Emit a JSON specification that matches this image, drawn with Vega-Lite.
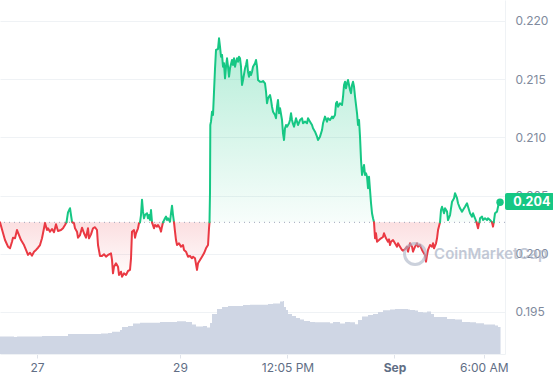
{
  "$schema": "https://vega.github.io/schema/vega-lite/v6.json",
  "width": 505,
  "height": 354,
  "autosize": {"type": "none"},
  "padding": {"left": 0, "top": 0, "right": 48, "bottom": 26},
  "background": "white",
  "config": {"view": {"stroke": null}, "font": "Inter"},
  "datasets": {
    "price": [
      {"t":11.58,"p":0.20270,"s":1,"d":"down"},{"t":12.59,"p":0.20179,"s":1,"d":"down"},{"t":13.26,"p":0.20118,"s":1,"d":"down"},{"t":14.27,"p":0.20061,"s":1,"d":"down"},{"t":14.94,"p":0.20047,"s":1,"d":"down"},{"t":15.61,"p":0.20104,"s":1,"d":"down"},{"t":15.94,"p":0.20138,"s":1,"d":"down"},{"t":16.62,"p":0.20133,"s":1,"d":"down"},{"t":17.29,"p":0.20204,"s":1,"d":"down"},{"t":17.96,"p":0.20161,"s":1,"d":"down"},{"t":18.63,"p":0.20118,"s":1,"d":"down"},{"t":19.64,"p":0.20075,"s":1,"d":"down"},{"t":20.31,"p":0.20033,"s":1,"d":"down"},{"t":20.98,"p":0.19990,"s":1,"d":"down"},{"t":21.65,"p":0.20009,"s":1,"d":"down"},{"t":22.32,"p":0.19984,"s":1,"d":"down"},{"t":23.0,"p":0.20018,"s":1,"d":"down"},{"t":23.67,"p":0.20033,"s":1,"d":"down"},{"t":24.34,"p":0.20052,"s":1,"d":"down"},{"t":25.01,"p":0.20075,"s":1,"d":"down"},{"t":25.68,"p":0.20133,"s":1,"d":"down"},{"t":26.35,"p":0.20219,"s":1,"d":"down"},{"t":26.69,"p":0.20264,"s":1,"d":"down"},{"t":27.36,"p":0.20204,"s":1,"d":"down"},{"t":27.69,"p":0.20219,"s":1,"d":"down"},{"t":28.37,"p":0.20190,"s":1,"d":"down"},{"t":29.04,"p":0.20213,"s":1,"d":"down"},{"t":29.71,"p":0.20185,"s":1,"d":"down"},{"t":30.38,"p":0.20253,"s":1,"d":"down"},{"t":31.05,"p":0.20196,"s":1,"d":"down"},{"t":32.06,"p":0.20204,"s":1,"d":"down"},{"t":32.73,"p":0.20219,"s":1,"d":"down"},{"t":33.4,"p":0.20247,"s":1,"d":"down"},{"t":33.9,"p":0.20270,"s":1,"d":"down"},
      {"t":33.9,"p":0.20270,"s":2,"d":"up"},{"t":34.41,"p":0.20356,"s":2,"d":"up"},{"t":35.08,"p":0.20391,"s":2,"d":"up"},{"t":35.41,"p":0.20333,"s":2,"d":"up"},{"t":35.75,"p":0.20276,"s":2,"d":"up"},{"t":35.92,"p":0.20270,"s":2,"d":"up"},
      {"t":35.92,"p":0.20270,"s":3,"d":"down"},{"t":36.42,"p":0.20262,"s":3,"d":"down"},{"t":36.76,"p":0.20219,"s":3,"d":"down"},{"t":37.43,"p":0.20190,"s":3,"d":"down"},{"t":37.76,"p":0.20138,"s":3,"d":"down"},{"t":38.44,"p":0.20161,"s":3,"d":"down"},{"t":39.11,"p":0.20224,"s":3,"d":"down"},{"t":39.78,"p":0.20176,"s":3,"d":"down"},{"t":40.45,"p":0.20138,"s":3,"d":"down"},{"t":41.12,"p":0.20219,"s":3,"d":"down"},{"t":41.46,"p":0.20133,"s":3,"d":"down"},{"t":42.13,"p":0.20167,"s":3,"d":"down"},{"t":42.8,"p":0.20219,"s":3,"d":"down"},{"t":43.47,"p":0.20228,"s":3,"d":"down"},{"t":44.14,"p":0.20204,"s":3,"d":"down"},{"t":44.48,"p":0.20075,"s":3,"d":"down"},{"t":45.15,"p":0.19981,"s":3,"d":"down"},{"t":45.82,"p":0.19981,"s":3,"d":"down"},{"t":46.49,"p":0.19996,"s":3,"d":"down"},{"t":47.16,"p":0.19975,"s":3,"d":"down"},{"t":47.84,"p":0.19990,"s":3,"d":"down"},{"t":48.51,"p":0.19998,"s":3,"d":"down"},{"t":48.84,"p":0.20004,"s":3,"d":"down"},{"t":49.18,"p":0.19947,"s":3,"d":"down"},{"t":49.51,"p":0.19832,"s":3,"d":"down"},{"t":49.85,"p":0.19889,"s":3,"d":"down"},{"t":50.52,"p":0.19918,"s":3,"d":"down"},{"t":51.19,"p":0.19889,"s":3,"d":"down"},{"t":51.53,"p":0.19818,"s":3,"d":"down"},{"t":52.2,"p":0.19846,"s":3,"d":"down"},{"t":52.54,"p":0.19803,"s":3,"d":"down"},{"t":53.21,"p":0.19832,"s":3,"d":"down"},{"t":53.88,"p":0.19818,"s":3,"d":"down"},{"t":54.55,"p":0.19852,"s":3,"d":"down"},{"t":55.22,"p":0.19861,"s":3,"d":"down"},{"t":55.56,"p":0.19961,"s":3,"d":"down"},{"t":55.89,"p":0.20190,"s":3,"d":"down"},{"t":56.56,"p":0.20204,"s":3,"d":"down"},{"t":56.9,"p":0.20138,"s":3,"d":"down"},{"t":57.24,"p":0.20176,"s":3,"d":"down"},{"t":57.91,"p":0.20219,"s":3,"d":"down"},{"t":58.24,"p":0.20262,"s":3,"d":"down"},{"t":58.58,"p":0.20270,"s":3,"d":"down"},
      {"t":58.58,"p":0.20270,"s":4,"d":"up"},{"t":58.91,"p":0.20333,"s":4,"d":"up"},{"t":59.25,"p":0.20465,"s":4,"d":"up"},{"t":59.59,"p":0.20362,"s":4,"d":"up"},{"t":59.92,"p":0.20305,"s":4,"d":"up"},{"t":60.26,"p":0.20333,"s":4,"d":"up"},{"t":60.93,"p":0.20348,"s":4,"d":"up"},{"t":61.26,"p":0.20305,"s":4,"d":"up"},{"t":61.6,"p":0.20333,"s":4,"d":"up"},{"t":61.94,"p":0.20290,"s":4,"d":"up"},{"t":62.27,"p":0.20376,"s":4,"d":"up"},{"t":62.61,"p":0.20270,"s":4,"d":"up"},
      {"t":62.61,"p":0.20270,"s":5,"d":"down"},{"t":63.28,"p":0.20219,"s":5,"d":"down"},{"t":63.61,"p":0.20247,"s":5,"d":"down"},{"t":64.29,"p":0.20233,"s":5,"d":"down"},{"t":64.62,"p":0.20247,"s":5,"d":"down"},{"t":65.29,"p":0.20219,"s":5,"d":"down"},{"t":65.63,"p":0.20190,"s":5,"d":"down"},{"t":65.96,"p":0.20233,"s":5,"d":"down"},{"t":66.3,"p":0.20270,"s":5,"d":"down"},
      {"t":66.3,"p":0.20270,"s":6,"d":"up"},{"t":66.97,"p":0.20305,"s":6,"d":"up"},{"t":67.31,"p":0.20319,"s":6,"d":"up"},{"t":67.64,"p":0.20290,"s":6,"d":"up"},{"t":67.98,"p":0.20305,"s":6,"d":"up"},{"t":68.65,"p":0.20276,"s":6,"d":"up"},{"t":68.98,"p":0.20348,"s":6,"d":"up"},{"t":69.32,"p":0.20413,"s":6,"d":"up"},{"t":69.66,"p":0.20333,"s":6,"d":"up"},{"t":69.99,"p":0.20270,"s":6,"d":"up"},
      {"t":69.99,"p":0.20270,"s":7,"d":"down"},{"t":70.33,"p":0.20190,"s":7,"d":"down"},{"t":70.66,"p":0.20118,"s":7,"d":"down"},{"t":71.0,"p":0.20075,"s":7,"d":"down"},{"t":71.67,"p":0.20090,"s":7,"d":"down"},{"t":72.34,"p":0.20061,"s":7,"d":"down"},{"t":73.01,"p":0.20075,"s":7,"d":"down"},{"t":73.35,"p":0.20033,"s":7,"d":"down"},{"t":74.02,"p":0.20018,"s":7,"d":"down"},{"t":74.69,"p":0.19975,"s":7,"d":"down"},{"t":75.36,"p":0.19981,"s":7,"d":"down"},{"t":76.03,"p":0.19961,"s":7,"d":"down"},{"t":76.37,"p":0.19975,"s":7,"d":"down"},{"t":77.04,"p":0.19961,"s":7,"d":"down"},{"t":77.71,"p":0.19861,"s":7,"d":"down"},{"t":78.05,"p":0.19918,"s":7,"d":"down"},{"t":78.72,"p":0.19947,"s":7,"d":"down"},{"t":79.39,"p":0.19975,"s":7,"d":"down"},{"t":80.06,"p":0.20004,"s":7,"d":"down"},{"t":80.73,"p":0.20047,"s":7,"d":"down"},{"t":81.41,"p":0.20075,"s":7,"d":"down"},{"t":81.74,"p":0.20219,"s":7,"d":"down"},{"t":81.91,"p":0.20270,"s":7,"d":"down"},
      {"t":81.91,"p":0.20270,"s":8,"d":"up"},{"t":82.08,"p":0.20533,"s":8,"d":"up"},{"t":82.18,"p":0.21106,"s":8,"d":"up"},{"t":82.41,"p":0.21135,"s":8,"d":"up"},{"t":82.75,"p":0.21221,"s":8,"d":"up"},{"t":83.08,"p":0.21192,"s":8,"d":"up"},{"t":83.42,"p":0.21392,"s":8,"d":"up"},{"t":83.76,"p":0.21593,"s":8,"d":"up"},{"t":84.09,"p":0.21751,"s":8,"d":"up"},{"t":84.76,"p":0.21759,"s":8,"d":"up"},{"t":85.1,"p":0.21851,"s":8,"d":"up"},{"t":85.43,"p":0.21779,"s":8,"d":"up"},{"t":85.77,"p":0.21693,"s":8,"d":"up"},{"t":86.11,"p":0.21708,"s":8,"d":"up"},{"t":86.44,"p":0.21607,"s":8,"d":"up"},{"t":86.78,"p":0.21636,"s":8,"d":"up"},{"t":87.11,"p":0.21507,"s":8,"d":"up"},{"t":87.45,"p":0.21607,"s":8,"d":"up"},{"t":87.79,"p":0.21679,"s":8,"d":"up"},{"t":88.12,"p":0.21607,"s":8,"d":"up"},{"t":88.46,"p":0.21521,"s":8,"d":"up"},{"t":88.79,"p":0.21593,"s":8,"d":"up"},{"t":89.46,"p":0.21665,"s":8,"d":"up"},{"t":89.8,"p":0.21622,"s":8,"d":"up"},{"t":90.13,"p":0.21679,"s":8,"d":"up"},{"t":90.47,"p":0.21607,"s":8,"d":"up"},{"t":90.81,"p":0.21650,"s":8,"d":"up"},{"t":91.14,"p":0.21679,"s":8,"d":"up"},{"t":91.48,"p":0.21650,"s":8,"d":"up"},{"t":91.81,"p":0.21693,"s":8,"d":"up"},{"t":92.15,"p":0.21679,"s":8,"d":"up"},{"t":92.48,"p":0.21607,"s":8,"d":"up"},{"t":92.82,"p":0.21450,"s":8,"d":"up"},{"t":93.16,"p":0.21493,"s":8,"d":"up"},{"t":93.83,"p":0.21593,"s":8,"d":"up"},{"t":94.16,"p":0.21622,"s":8,"d":"up"},{"t":94.5,"p":0.21665,"s":8,"d":"up"},{"t":94.83,"p":0.21564,"s":8,"d":"up"},{"t":95.17,"p":0.21521,"s":8,"d":"up"},{"t":95.51,"p":0.21564,"s":8,"d":"up"},{"t":95.84,"p":0.21536,"s":8,"d":"up"},{"t":96.18,"p":0.21564,"s":8,"d":"up"},{"t":96.51,"p":0.21607,"s":8,"d":"up"},{"t":97.18,"p":0.21636,"s":8,"d":"up"},{"t":97.52,"p":0.21665,"s":8,"d":"up"},{"t":97.86,"p":0.21607,"s":8,"d":"up"},{"t":98.19,"p":0.21493,"s":8,"d":"up"},{"t":98.86,"p":0.21478,"s":8,"d":"up"},{"t":99.54,"p":0.21478,"s":8,"d":"up"},{"t":99.87,"p":0.21484,"s":8,"d":"up"},{"t":100.54,"p":0.21464,"s":8,"d":"up"},{"t":100.88,"p":0.21392,"s":8,"d":"up"},{"t":101.21,"p":0.21293,"s":8,"d":"up"},{"t":101.55,"p":0.21336,"s":8,"d":"up"},{"t":102.22,"p":0.21364,"s":8,"d":"up"},{"t":102.56,"p":0.21321,"s":8,"d":"up"},{"t":102.89,"p":0.21263,"s":8,"d":"up"},{"t":103.23,"p":0.21221,"s":8,"d":"up"},{"t":103.9,"p":0.21192,"s":8,"d":"up"},{"t":104.23,"p":0.21164,"s":8,"d":"up"},{"t":104.57,"p":0.21263,"s":8,"d":"up"},{"t":104.9,"p":0.21321,"s":8,"d":"up"},{"t":105.24,"p":0.21207,"s":8,"d":"up"},{"t":105.58,"p":0.21250,"s":8,"d":"up"},{"t":106.25,"p":0.21149,"s":8,"d":"up"},{"t":106.58,"p":0.21035,"s":8,"d":"up"},{"t":106.92,"p":0.20977,"s":8,"d":"up"},{"t":107.25,"p":0.21078,"s":8,"d":"up"},{"t":107.59,"p":0.21106,"s":8,"d":"up"},{"t":107.93,"p":0.21092,"s":8,"d":"up"},{"t":108.6,"p":0.21121,"s":8,"d":"up"},{"t":108.93,"p":0.21149,"s":8,"d":"up"},{"t":109.27,"p":0.21207,"s":8,"d":"up"},{"t":109.6,"p":0.21149,"s":8,"d":"up"},{"t":109.94,"p":0.21115,"s":8,"d":"up"},{"t":110.28,"p":0.21092,"s":8,"d":"up"},{"t":110.95,"p":0.21164,"s":8,"d":"up"},{"t":111.62,"p":0.21106,"s":8,"d":"up"},{"t":112.29,"p":0.21149,"s":8,"d":"up"},{"t":112.96,"p":0.21164,"s":8,"d":"up"},{"t":113.3,"p":0.21121,"s":8,"d":"up"},{"t":113.97,"p":0.21135,"s":8,"d":"up"},{"t":114.64,"p":0.21121,"s":8,"d":"up"},{"t":114.98,"p":0.21164,"s":8,"d":"up"},{"t":115.65,"p":0.21135,"s":8,"d":"up"},{"t":116.32,"p":0.21106,"s":8,"d":"up"},{"t":116.66,"p":0.21078,"s":8,"d":"up"},{"t":117.33,"p":0.21049,"s":8,"d":"up"},{"t":118.0,"p":0.21006,"s":8,"d":"up"},{"t":118.33,"p":0.20977,"s":8,"d":"up"},{"t":119.0,"p":0.21006,"s":8,"d":"up"},{"t":119.68,"p":0.21063,"s":8,"d":"up"},{"t":120.01,"p":0.21121,"s":8,"d":"up"},{"t":120.68,"p":0.21178,"s":8,"d":"up"},{"t":121.35,"p":0.21135,"s":8,"d":"up"},{"t":121.69,"p":0.21164,"s":8,"d":"up"},{"t":122.36,"p":0.21149,"s":8,"d":"up"},{"t":123.03,"p":0.21178,"s":8,"d":"up"},{"t":123.37,"p":0.21164,"s":8,"d":"up"},{"t":124.04,"p":0.21192,"s":8,"d":"up"},{"t":124.38,"p":0.21293,"s":8,"d":"up"},{"t":124.71,"p":0.21306,"s":8,"d":"up"},{"t":125.05,"p":0.21263,"s":8,"d":"up"},{"t":125.72,"p":0.21293,"s":8,"d":"up"},{"t":126.39,"p":0.21278,"s":8,"d":"up"},{"t":126.73,"p":0.21349,"s":8,"d":"up"},{"t":127.06,"p":0.21450,"s":8,"d":"up"},{"t":127.4,"p":0.21478,"s":8,"d":"up"},{"t":127.73,"p":0.21421,"s":8,"d":"up"},{"t":128.07,"p":0.21464,"s":8,"d":"up"},{"t":128.4,"p":0.21493,"s":8,"d":"up"},{"t":128.74,"p":0.21450,"s":8,"d":"up"},{"t":129.08,"p":0.21407,"s":8,"d":"up"},{"t":129.41,"p":0.21379,"s":8,"d":"up"},{"t":129.75,"p":0.21450,"s":8,"d":"up"},{"t":130.08,"p":0.21478,"s":8,"d":"up"},{"t":130.42,"p":0.21435,"s":8,"d":"up"},{"t":130.76,"p":0.21349,"s":8,"d":"up"},{"t":131.43,"p":0.21207,"s":8,"d":"up"},{"t":131.76,"p":0.21106,"s":8,"d":"up"},{"t":132.1,"p":0.21149,"s":8,"d":"up"},{"t":132.43,"p":0.21006,"s":8,"d":"up"},{"t":132.77,"p":0.20806,"s":8,"d":"up"},{"t":133.1,"p":0.20677,"s":8,"d":"up"},{"t":133.44,"p":0.20720,"s":8,"d":"up"},{"t":133.77,"p":0.20763,"s":8,"d":"up"},{"t":134.11,"p":0.20677,"s":8,"d":"up"},{"t":134.45,"p":0.20691,"s":8,"d":"up"},{"t":134.78,"p":0.20662,"s":8,"d":"up"},{"t":135.12,"p":0.20563,"s":8,"d":"up"},{"t":135.45,"p":0.20662,"s":8,"d":"up"},{"t":135.79,"p":0.20548,"s":8,"d":"up"},{"t":136.13,"p":0.20434,"s":8,"d":"up"},{"t":136.46,"p":0.20348,"s":8,"d":"up"},{"t":136.8,"p":0.20305,"s":8,"d":"up"},{"t":137.13,"p":0.20270,"s":8,"d":"up"},
      {"t":137.13,"p":0.20270,"s":9,"d":"down"},{"t":137.47,"p":0.20133,"s":9,"d":"down"},{"t":137.8,"p":0.20176,"s":9,"d":"down"},{"t":138.14,"p":0.20104,"s":9,"d":"down"},{"t":138.81,"p":0.20118,"s":9,"d":"down"},{"t":139.48,"p":0.20133,"s":9,"d":"down"},{"t":140.15,"p":0.20144,"s":9,"d":"down"},{"t":140.49,"p":0.20176,"s":9,"d":"down"},{"t":141.16,"p":0.20133,"s":9,"d":"down"},{"t":141.83,"p":0.20104,"s":9,"d":"down"},{"t":142.17,"p":0.20124,"s":9,"d":"down"},{"t":142.5,"p":0.20075,"s":9,"d":"down"},{"t":142.84,"p":0.20104,"s":9,"d":"down"},{"t":143.51,"p":0.20118,"s":9,"d":"down"},{"t":144.18,"p":0.20090,"s":9,"d":"down"},{"t":144.85,"p":0.20061,"s":9,"d":"down"},{"t":145.19,"p":0.20090,"s":9,"d":"down"},{"t":145.86,"p":0.20061,"s":9,"d":"down"},{"t":146.53,"p":0.20033,"s":9,"d":"down"},{"t":146.87,"p":0.20027,"s":9,"d":"down"},{"t":147.54,"p":0.20039,"s":9,"d":"down"},{"t":148.21,"p":0.20061,"s":9,"d":"down"},{"t":148.55,"p":0.20018,"s":9,"d":"down"},{"t":149.22,"p":0.20090,"s":9,"d":"down"},{"t":149.89,"p":0.20061,"s":9,"d":"down"},{"t":150.22,"p":0.20018,"s":9,"d":"down"},{"t":150.9,"p":0.20061,"s":9,"d":"down"},{"t":151.57,"p":0.20090,"s":9,"d":"down"},{"t":151.9,"p":0.20061,"s":9,"d":"down"},{"t":152.57,"p":0.20075,"s":9,"d":"down"},{"t":153.25,"p":0.20033,"s":9,"d":"down"},{"t":153.58,"p":0.20018,"s":9,"d":"down"},{"t":154.25,"p":0.19990,"s":9,"d":"down"},{"t":154.59,"p":0.19932,"s":9,"d":"down"},{"t":154.92,"p":0.19990,"s":9,"d":"down"},{"t":155.26,"p":0.20033,"s":9,"d":"down"},{"t":155.93,"p":0.20075,"s":9,"d":"down"},{"t":156.6,"p":0.20061,"s":9,"d":"down"},{"t":156.94,"p":0.20090,"s":9,"d":"down"},{"t":157.27,"p":0.20047,"s":9,"d":"down"},{"t":157.95,"p":0.20090,"s":9,"d":"down"},{"t":158.28,"p":0.20133,"s":9,"d":"down"},{"t":158.62,"p":0.20204,"s":9,"d":"down"},{"t":159.29,"p":0.20270,"s":9,"d":"down"},
      {"t":159.29,"p":0.20270,"s":10,"d":"up"},{"t":159.62,"p":0.20376,"s":10,"d":"up"},{"t":159.96,"p":0.20404,"s":10,"d":"up"},{"t":160.3,"p":0.20376,"s":10,"d":"up"},{"t":160.63,"p":0.20348,"s":10,"d":"up"},{"t":160.97,"p":0.20391,"s":10,"d":"up"},{"t":161.64,"p":0.20362,"s":10,"d":"up"},{"t":161.97,"p":0.20290,"s":10,"d":"up"},{"t":162.65,"p":0.20333,"s":10,"d":"up"},{"t":162.98,"p":0.20391,"s":10,"d":"up"},{"t":163.32,"p":0.20447,"s":10,"d":"up"},{"t":163.99,"p":0.20477,"s":10,"d":"up"},{"t":164.32,"p":0.20520,"s":10,"d":"up"},{"t":165.0,"p":0.20477,"s":10,"d":"up"},{"t":165.33,"p":0.20434,"s":10,"d":"up"},{"t":166.0,"p":0.20391,"s":10,"d":"up"},{"t":166.67,"p":0.20362,"s":10,"d":"up"},{"t":167.01,"p":0.20376,"s":10,"d":"up"},{"t":167.68,"p":0.20404,"s":10,"d":"up"},{"t":168.35,"p":0.20434,"s":10,"d":"up"},{"t":168.69,"p":0.20404,"s":10,"d":"up"},{"t":169.36,"p":0.20348,"s":10,"d":"up"},{"t":170.03,"p":0.20319,"s":10,"d":"up"},{"t":170.37,"p":0.20348,"s":10,"d":"up"},{"t":171.04,"p":0.20305,"s":10,"d":"up"},{"t":171.54,"p":0.20270,"s":10,"d":"up"},
      {"t":171.54,"p":0.20270,"s":11,"d":"down"},{"t":172.04,"p":0.20219,"s":11,"d":"down"},{"t":172.38,"p":0.20262,"s":11,"d":"down"},{"t":172.55,"p":0.20270,"s":11,"d":"down"},
      {"t":172.55,"p":0.20270,"s":12,"d":"up"},{"t":172.72,"p":0.20305,"s":12,"d":"up"},{"t":173.39,"p":0.20319,"s":12,"d":"up"},{"t":173.72,"p":0.20290,"s":12,"d":"up"},{"t":174.39,"p":0.20305,"s":12,"d":"up"},{"t":175.07,"p":0.20290,"s":12,"d":"up"},{"t":175.4,"p":0.20305,"s":12,"d":"up"},{"t":176.07,"p":0.20290,"s":12,"d":"up"},{"t":176.74,"p":0.20270,"s":12,"d":"up"},
      {"t":176.74,"p":0.20270,"s":13,"d":"down"},{"t":177.08,"p":0.20233,"s":13,"d":"down"},{"t":177.31,"p":0.20270,"s":13,"d":"down"},
      {"t":177.31,"p":0.20270,"s":14,"d":"up"},{"t":177.75,"p":0.20348,"s":14,"d":"up"},{"t":178.42,"p":0.20362,"s":14,"d":"up"},{"t":178.76,"p":0.20404,"s":14,"d":"up"},{"t":179.09,"p":0.20447,"s":14,"d":"up"},{"t":179.43,"p":0.20442,"s":14,"d":"up"}
    ],
    "vol": [
      {"t":11.58,"v":17.5},{"t":16.28,"v":17},{"t":17.29,"v":17.5},{"t":25.68,"v":18},{"t":34.41,"v":20},{"t":45.49,"v":20.5},{"t":47.84,"v":21},{"t":49.18,"v":22.3},{"t":51.86,"v":24},{"t":52.54,"v":27},{"t":54.55,"v":28},{"t":56.23,"v":30.5},{"t":58.58,"v":31.3},{"t":65.29,"v":32},{"t":71.0,"v":32.7},{"t":74.02,"v":32},{"t":76.03,"v":29.5},{"t":77.38,"v":27.5},{"t":79.73,"v":28},{"t":81.07,"v":26.5},{"t":82.08,"v":31},{"t":82.75,"v":40},{"t":84.43,"v":45},{"t":86.11,"v":47},{"t":88.12,"v":48},{"t":93.16,"v":49},{"t":95.51,"v":49.3},{"t":101.55,"v":50},{"t":103.23,"v":50.5},{"t":105.58,"v":52.5},{"t":106.58,"v":53},{"t":106.92,"v":47},{"t":107.59,"v":44},{"t":108.26,"v":40},{"t":109.6,"v":38},{"t":110.95,"v":36},{"t":112.29,"v":34.5},{"t":113.63,"v":33},{"t":115.65,"v":32},{"t":117.33,"v":31.7},{"t":122.36,"v":30.7},{"t":123.37,"v":32},{"t":125.72,"v":30.5},{"t":127.4,"v":32},{"t":129.08,"v":31.7},{"t":130.76,"v":29.7},{"t":131.76,"v":34},{"t":133.1,"v":37.5},{"t":135.12,"v":39},{"t":136.8,"v":40},{"t":138.47,"v":42},{"t":140.15,"v":43.7},{"t":142.5,"v":44.5},{"t":144.18,"v":45},{"t":147.54,"v":45},{"t":148.55,"v":44.5},{"t":149.22,"v":44},{"t":150.9,"v":43.5},{"t":151.9,"v":42},{"t":153.58,"v":41.5},{"t":154.92,"v":42.5},{"t":156.27,"v":40},{"t":157.27,"v":37},{"t":159.29,"v":37},{"t":161.64,"v":35},{"t":164.32,"v":34.5},{"t":166.67,"v":32},{"t":169.36,"v":31.7},{"t":171.37,"v":30.7},{"t":174.06,"v":29.5},{"t":177.08,"v":29.5},{"t":177.75,"v":28.5},{"t":178.76,"v":27},{"t":179.6,"v":27}
    ]
  },
  "resolve": {"scale": {"y": "independent"}, "axis": {"y": "independent"}},
  "layer": [
    {
      "data": {"name": "price"},
      "transform": [{"filter": "datum.d == 'up'"}],
      "mark": {"type": "area", "opacity": 1, "fill": {"gradient": "linear", "x1": 0, "y1": 0, "x2": 0, "y2": 1, "stops": [{"offset": 0, "color": "rgba(22,199,132,0.32)"}, {"offset": 1, "color": "rgba(22,199,132,0.03)"}]}},
      "encoding": {
        "x": {"field": "t", "type": "quantitative", "scale": {"domain": [11.58, 181.1], "nice": false, "zero": false},
          "axis": {"values": [24, 72, 108.08, 144, 174], "labelExpr": "datum.value == 24 ? '27' : datum.value == 72 ? '29' : datum.value == 144 ? 'Sep' : datum.value == 174 ? '6:00 AM' : '12:05 PM'", "title": null, "grid": false, "domain": true, "domainColor": "#eff2f5", "ticks": true, "tickColor": "#dfe3ea", "tickSize": 4, "labelColor": "#616e85", "labelFontSize": 12, "labelPadding": 4, "labelFont": "Inter", "labelFontWeight": {"expr": "datum.value == 144 ? 'bold' : 'normal'"}}},
        "y": {"field": "p", "type": "quantitative", "scale": {"domain": [0.19139, 0.2218], "nice": false, "zero": false},
          "axis": {"orient": "right", "values": [0.195, 0.2, 0.205, 0.21, 0.215, 0.22], "format": ".3f", "title": null, "grid": true, "gridColor": "#eff2f5", "domain": true, "domainColor": "#eff2f5", "ticks": false, "labelPadding": 10, "labelColor": "#808a9d", "labelFontSize": 12, "labelFont": "Inter"}},
        "y2": {"datum": 0.2027}
      }
    },
    {
      "data": {"name": "vol"},
      "mark": {"type": "area", "interpolate": "step-after", "color": "#cfd6e4", "opacity": 1},
      "encoding": {
        "x": {"field": "t", "type": "quantitative", "scale": {"domain": [11.58, 181.1], "nice": false, "zero": false}},
        "y": {"field": "v", "type": "quantitative", "scale": {"domain": [0, 354], "nice": false, "zero": true}, "axis": null}
      }
    },
    {
      "data": {"name": "price"},
      "transform": [{"filter": "datum.d == 'down'"}],
      "mark": {"type": "area", "opacity": 1, "fill": {"gradient": "linear", "x1": 0, "y1": 0, "x2": 0, "y2": 1, "stops": [{"offset": 0, "color": "rgba(234,57,67,0.16)"}, {"offset": 1, "color": "rgba(234,57,67,0.01)"}]}},
      "encoding": {
        "x": {"field": "t", "type": "quantitative", "scale": {"domain": [11.58, 181.1], "nice": false, "zero": false}},
        "y": {"field": "p", "type": "quantitative", "scale": {"domain": [0.19139, 0.2218], "nice": false, "zero": false}, "axis": null},
        "y2": {"datum": 0.2027}
      }
    },
    {
      "data": {"values": [{"base": 0.2027}]},
      "mark": {"type": "rule", "color": "#a1a7bb", "strokeDash": [1, 4], "strokeWidth": 1},
      "encoding": {
        "y": {"field": "base", "type": "quantitative", "scale": {"domain": [0.19139, 0.2218], "nice": false, "zero": false}, "axis": null}
      }
    },
    {
      "data": {"name": "price"},
      "mark": {"type": "line", "strokeWidth": 2, "strokeJoin": "round", "strokeCap": "round"},
      "encoding": {
        "x": {"field": "t", "type": "quantitative", "scale": {"domain": [11.58, 181.1], "nice": false, "zero": false}},
        "y": {"field": "p", "type": "quantitative", "scale": {"domain": [0.19139, 0.2218], "nice": false, "zero": false}, "axis": null},
        "color": {"field": "d", "type": "nominal", "scale": {"domain": ["up", "down"], "range": ["#16c784", "#ea3943"]}, "legend": null},
        "detail": {"field": "s", "type": "nominal"}
      }
    },
    {
      "data": {"values": [{"t": 179.43, "p": 0.20442}]},
      "mark": {"type": "point", "filled": true, "opacity": 1, "color": "#16c784", "size": 55},
      "encoding": {
        "x": {"field": "t", "type": "quantitative", "scale": {"domain": [11.58, 181.1], "nice": false, "zero": false}},
        "y": {"field": "p", "type": "quantitative", "scale": {"domain": [0.19139, 0.2218], "nice": false, "zero": false}, "axis": null}
      }
    },
    {
      "data": {"values": [{"label": "0.204", "p": 0.20449}]},
      "mark": {"type": "rect", "color": "#16c784", "cornerRadius": 2},
      "encoding": {
        "x": {"datum": 181.1, "type": "quantitative", "scale": {"domain": [11.58, 181.1], "nice": false, "zero": false}},
        "x2": {"datum": 197.6},
        "y": {"datum": 0.20522, "type": "quantitative", "scale": {"domain": [0.19139, 0.2218], "nice": false, "zero": false}, "axis": null},
        "y2": {"datum": 0.20376}
      }
    },
    {
      "data": {"values": [{"label": "0.204", "p": 0.20449}]},
      "mark": {"type": "text", "align": "left", "baseline": "middle", "color": "white", "fontWeight": "bold", "fontSize": 12.5, "font": "Inter"},
      "encoding": {
        "x": {"datum": 183.9, "type": "quantitative", "scale": {"domain": [11.58, 181.1], "nice": false, "zero": false}},
        "y": {"field": "p", "type": "quantitative", "scale": {"domain": [0.19139, 0.2218], "nice": false, "zero": false}, "axis": null},
        "text": {"field": "label"}
      }
    },
    {
      "data": {"values": [{"wm": "CoinMarketCap", "p": 0.19998}]},
      "mark": {"type": "point", "shape": "circle", "filled": false, "color": "#aab3c5", "strokeWidth": 3, "size": 440, "opacity": 0.6},
      "encoding": {
        "x": {"datum": 150.9, "type": "quantitative", "scale": {"domain": [11.58, 181.1], "nice": false, "zero": false}},
        "y": {"field": "p", "type": "quantitative", "scale": {"domain": [0.19139, 0.2218], "nice": false, "zero": false}, "axis": null}
      }
    },
    {
      "data": {"values": [{"wm": "CoinMarketCap", "p": 0.19998}]},
      "mark": {"type": "text", "align": "left", "baseline": "middle", "color": "#aab3c5", "opacity": 0.7, "fontWeight": 600, "fontSize": 15, "font": "Inter"},
      "encoding": {
        "x": {"datum": 157.3, "type": "quantitative", "scale": {"domain": [11.58, 181.1], "nice": false, "zero": false}},
        "y": {"field": "p", "type": "quantitative", "scale": {"domain": [0.19139, 0.2218], "nice": false, "zero": false}, "axis": null},
        "text": {"field": "wm"}
      }
    }
  ]
}
